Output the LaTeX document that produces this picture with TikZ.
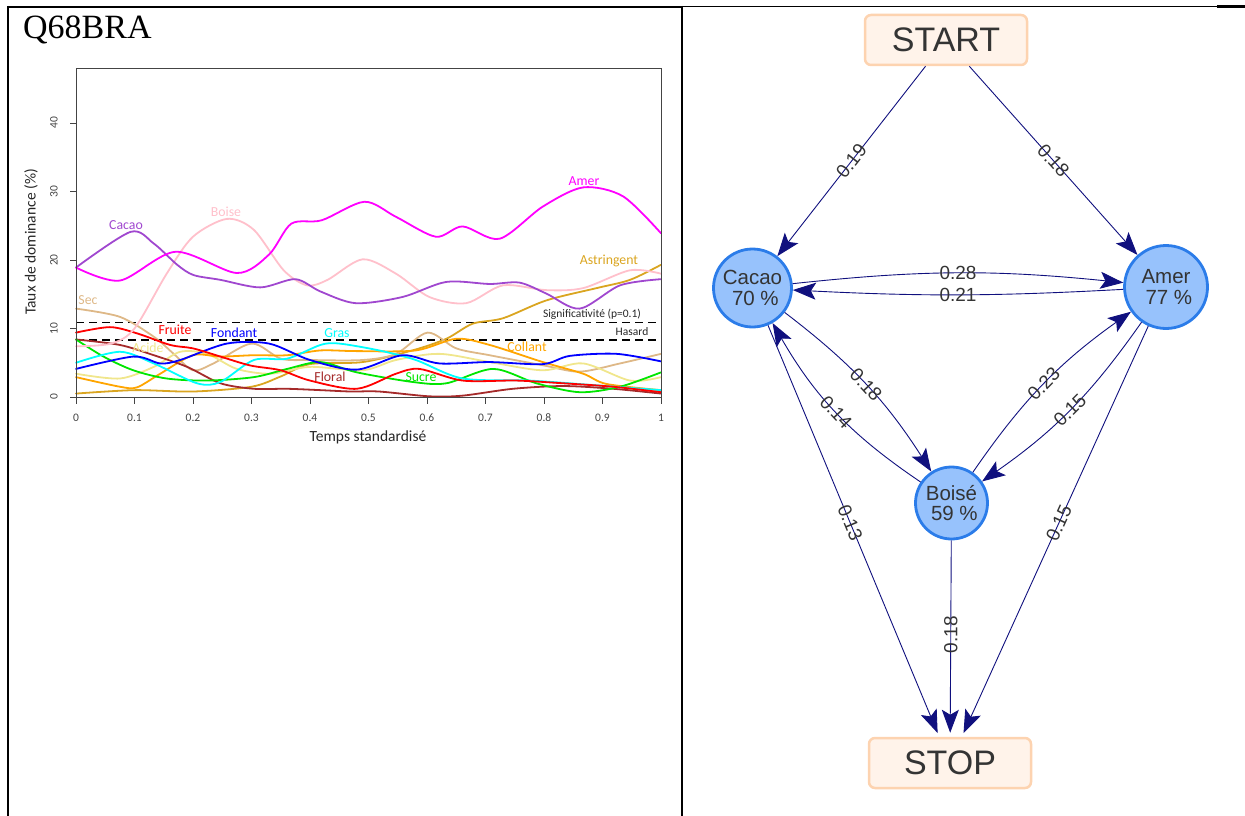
\documentclass[tikz,border=0pt]{standalone}
\usepackage{fontspec}
\setmainfont{Liberation Serif}
\newfontfamily\plotfont{Carlito}
\newfontfamily\graphfont{Liberation Sans}
\usetikzlibrary{arrows.meta}

\definecolor{cAmer}{HTML}{FF00FF}
\definecolor{cCacao}{HTML}{A047CF}
\definecolor{cBoise}{HTML}{FFC0CB}
\definecolor{cAstr}{HTML}{DAA520}
\definecolor{cSec}{HTML}{DEB887}
\definecolor{cFruite}{HTML}{FF0000}
\definecolor{cFondant}{HTML}{0000FF}
\definecolor{cGras}{HTML}{00FFFF}
\definecolor{cAcide}{HTML}{F0E68C}
\definecolor{cCollant}{HTML}{FFA500}
\definecolor{cFloral}{HTML}{A52A2A}
\definecolor{cSucre}{HTML}{00E600}
\definecolor{axcol}{HTML}{444444}
\definecolor{vborder}{HTML}{2B7CE9}
\definecolor{vfill}{HTML}{97C2FC}
\definecolor{vtext}{HTML}{343434}
\definecolor{tborder}{HTML}{FDD3B0}
\definecolor{tfill}{HTML}{FFF3EA}
\definecolor{navyedge}{HTML}{10107E}

\tikzset{
  curve/.style={line width=1.8pt, line join=round, line cap=round},
  axisline/.style={draw=axcol, line width=0.9pt},
  ticklab/.style={font=\plotfont\fontsize{11.5}{12}\selectfont, text=axcol, inner sep=0pt},
  axlab/.style={font=\plotfont\fontsize{15.5}{16}\selectfont, text=black!85, inner sep=0pt},
  clab/.style={font=\plotfont\fontsize{13.8}{14}\selectfont, inner sep=0pt},
  reflab/.style={font=\plotfont\fontsize{11.5}{12}\selectfont, text=black!85, inner sep=0pt},
  refline/.style={draw=black, line width=1.5pt, dash pattern=on 8pt off 5pt},
  vnode/.style={circle, draw=vborder, fill=vfill, line width=2.8pt, inner sep=0pt,
    text=vtext, align=center, font=\graphfont\fontsize{20.5}{20.5}\selectfont},
  term/.style={rectangle, rounded corners=6pt, draw=tborder, fill=tfill, line width=2.5pt,
    text=vtext, font=\graphfont\fontsize{34}{34}\selectfont, minimum width=162pt, minimum height=50pt},
  edge/.style={draw=navyedge, line width=0.9pt,
    -{Stealth[length=23pt,width=17pt,inset=5pt,fill=navyedge]}},
  elab/.style={font=\graphfont\fontsize{19}{19}\selectfont, text=vtext, inner sep=1pt},
  tableline/.style={draw=black, line width=2.2pt}
}

\begin{document}
\begin{tikzpicture}[x=1pt,y=1pt]
\useasboundingbox (0,0) rectangle (1245,-816);

% ---------- table borders ----------
\draw[tableline] (8,-7) -- (683,-7);
\draw[draw=black, line width=1.3pt] (683,-6.5) -- (1217,-6.5);
\draw[draw=black, line width=3pt] (1217,-7) -- (1245,-7);
\draw[tableline] (8,-6) -- (8,-816);
\draw[tableline] (682,-6) -- (682,-816);

\node[anchor=base west, inner sep=0pt, font=\fontsize{34}{34}\selectfont] (title) at (23,-39) {Q68BRA};

% ---------- plot ----------
\begin{scope}[shift={(76,-397)}, x=585pt, y=6.85pt]
  % reference lines
  \draw[refline] (0,10.9) -- (1,10.9);
  \draw[refline] (0,8.35) -- (1,8.35);
  % curves
  \draw[curve, cAstr] plot[smooth] coordinates {(0,0.5) (0.1,1.0) (0.2,0.8) (0.3,1.5) (0.35,3.0) (0.4,4.8) (0.49,5.1) (0.575,6.8) (0.633,8.5) (0.678,10.7) (0.73,11.5) (0.804,14.1) (0.89,15.9) (0.947,17.1) (1,19.3)};
  \draw[curve, cSec] plot[smooth] coordinates {(0,12.9) (0.075,11.7) (0.133,8.8) (0.167,6.3) (0.2,3.9) (0.235,4.9) (0.3,7.8) (0.35,5.6) (0.4,5.4) (0.49,5.4) (0.547,6.3) (0.601,9.4) (0.65,7.1) (0.707,6.1) (0.8,4.6) (0.861,3.7) (0.93,4.9) (1,6.3)};
  \draw[curve, cAcide] plot[smooth] coordinates {(0,3.4) (0.075,2.7) (0.133,4.4) (0.178,6.6) (0.224,6.3) (0.275,4.1) (0.333,3.4) (0.4,4.4) (0.49,3.9) (0.547,5.4) (0.621,6.3) (0.707,5.1) (0.798,3.9) (0.867,4.9) (0.947,2.4) (1,2.9)};
  \draw[curve, cCollant] plot[smooth] coordinates {(0,2.9) (0.075,1.5) (0.104,1.4) (0.144,3.4) (0.2,6.1) (0.247,5.9) (0.304,6.1) (0.361,6.1) (0.418,6.8) (0.48,6.7) (0.581,6.8) (0.65,8.5) (0.707,7.6) (0.798,5.1) (0.867,3.4) (0.907,1.9) (1,1.0)};
  \draw[curve, cFloral] plot[smooth] coordinates {(0,8.4) (0.075,7.6) (0.133,6.1) (0.19,4.4) (0.247,2.0) (0.304,1.2) (0.361,1.2) (0.418,1.0) (0.47,0.8) (0.518,0.8) (0.604,0.1) (0.661,0.2) (0.747,1.2) (0.833,1.6) (0.918,1.2) (1,0.5)};
  \draw[curve, cSucre] plot[smooth] coordinates {(0,8.4) (0.047,5.9) (0.098,3.9) (0.155,2.7) (0.224,2.4) (0.304,2.9) (0.361,4.1) (0.418,5.1) (0.48,3.6) (0.575,2.2) (0.633,2.0) (0.713,4.1) (0.787,2.0) (0.861,0.7) (0.93,1.5) (1,3.6)};
  \draw[curve, cGras] plot[smooth] coordinates {(0,5.0) (0.075,6.6) (0.133,4.9) (0.207,2.0) (0.247,2.2) (0.304,5.4) (0.361,5.6) (0.418,7.6) (0.45,7.8) (0.518,6.8) (0.581,5.4) (0.661,2.7) (0.775,2.4) (0.89,1.7) (1,1.0)};
  \draw[curve, cFondant] plot[smooth] coordinates {(0,4.1) (0.098,5.9) (0.144,4.9) (0.178,5.4) (0.258,7.8) (0.33,7.8) (0.4,5.4) (0.48,4.0) (0.558,6.1) (0.621,4.9) (0.707,5.1) (0.798,4.8) (0.844,6.0) (0.924,6.3) (1,5.2)};
  \draw[curve, cFruite] plot[smooth] coordinates {(0,9.4) (0.058,10.2) (0.104,9.3) (0.161,7.6) (0.2,7.1) (0.247,5.9) (0.298,4.6) (0.35,3.9) (0.4,2.4) (0.48,1.2) (0.547,3.4) (0.587,4.1) (0.661,2.4) (0.753,2.4) (0.833,2.0) (0.918,1.5) (1,0.7)};
  \draw[curve, cBoise] plot[smooth] coordinates {(0,7.4) (0.06,7.8) (0.1,10.0) (0.155,18.0) (0.2,23.4) (0.258,26.0) (0.304,24.4) (0.355,18.5) (0.395,16.3) (0.43,17.1) (0.49,20.1) (0.547,18.0) (0.604,14.6) (0.667,13.7) (0.73,16.3) (0.804,15.6) (0.867,15.9) (0.947,18.5) (1,18.0)};
  \draw[curve, cCacao] plot[smooth] coordinates {(0,18.9) (0.093,24.1) (0.133,22.4) (0.173,19.3) (0.201,17.8) (0.247,17.1) (0.315,16.0) (0.375,17.2) (0.418,15.4) (0.478,13.7) (0.558,14.6) (0.633,16.8) (0.707,16.5) (0.758,16.7) (0.804,15.1) (0.861,12.9) (0.93,16.3) (1,17.2)};
  \draw[curve, cAmer] plot[smooth] coordinates {(0,18.9) (0.075,17.0) (0.17,21.2) (0.275,18.1) (0.33,20.8) (0.368,25.3) (0.42,25.8) (0.493,28.5) (0.547,26.3) (0.615,23.4) (0.661,24.9) (0.724,23.1) (0.798,27.8) (0.867,30.6) (0.935,29.3) (1,23.9)};
  % frame
  \draw[axisline] (0,0) rectangle (1,47.9);
  % ticks
  \foreach \v in {0,10,20,30,40} {
    \draw[axisline] (0,\v) -- ++(-6.5pt,0);
    \node[ticklab, rotate=90] (yt\v) at ([xshift=-22pt]0,\v) {\v};
  }
  \foreach \i/\lab in {0/0,1/0.1,2/0.2,3/0.3,4/0.4,5/0.5,6/0.6,7/0.7,8/0.8,9/0.9,10/1} {
    \draw[axisline] (\i/10,0) -- ++(0,-6.5pt);
    \node[ticklab] (xt\i) at ([yshift=-21pt]\i/10,0) {\lab};
  }
\end{scope}

\node[axlab] (xlab) at (368,-437) {Temps standardisé};
\node[axlab, rotate=90] (ylab) at (31,-242) {Taux de dominance (\%)};

% curve labels
\node[clab, text=cAmer] (lAmer) at (584,-181) {Amer};
\node[clab, text=cCacao] (lCacao) at (126,-225) {Cacao};
\node[clab, text=cBoise] (lBoise) at (226,-212) {Boise};
\node[clab, text=cAstr] (lAstr) at (609,-261) {Astringent};
\node[clab, text=cSec] (lSec) at (88,-300) {Sec};
\node[clab, text=cFruite] (lFruite) at (175,-330) {Fruite};
\node[clab, text=cFondant] (lFondant) at (234,-333) {Fondant};
\node[clab, text=cGras] (lGras) at (337,-333) {Gras};
\node[clab, text=cAcide] (lAcide) at (148,-348) {Acide};
\node[clab, text=cCollant] (lCollant) at (527,-347) {Collant};
\node[clab, text=cFloral] (lFloral) at (330,-377) {Floral};
\node[clab, text=cSucre] (lSucre) at (421,-377) {Sucre};
\node[reflab] (lSig) at (592,-314) {Significativité (p=0.1)};
\node[reflab] (lHas) at (632,-332) {Hasard};

% ---------- graph ----------
\node[term] (START) at (946,-40) {START};
\node[term] (STOP) at (950,-763) {STOP};
\node[vnode, minimum size=78pt] (Cacao) at (752.5,-288) {Cacao\\\hspace*{0.28em}70 \%};
\node[vnode, minimum size=83pt] (Amer) at (1166,-287) {Amer\\\hspace*{0.28em}77 \%};
\node[vnode, minimum size=72pt] (Boise) at (951.5,-503) {Boisé\\\hspace*{0.28em}59 \%};

\draw[edge] (START) -- node[elab, sloped] (e1) {0.19} (Cacao);
\draw[edge] (START) -- node[elab, sloped] (e2) {0.18} (Amer);
\draw[edge] (Cacao) to[bend left=6] node[elab, sloped] (e3) {0.28} (Amer);
\draw[edge] (Amer) to[bend left=3] node[elab, sloped] (e4) {0.21} (Cacao);
\draw[edge] (Cacao) to[bend left=10] node[elab, sloped] (e5) {0.18} (Boise);
\draw[edge] (Boise) to[bend left=13] node[elab, sloped] (e6) {0.14} (Cacao);
\draw[edge] (Boise) to[bend left=10] node[elab, sloped] (e7) {0.23} (Amer);
\draw[edge] (Amer) to[bend left=10] node[elab, sloped] (e8) {0.15} (Boise);
\draw[edge, shorten >=4pt] (Cacao) -- node[elab, sloped, pos=0.48] (e9) {0.13} (STOP);
\draw[edge, shorten >=4pt] (Boise) -- node[elab, rotate=90, pos=0.48] (e10) {0.18} (STOP);
\draw[edge, shorten >=4pt] (Amer) -- node[elab, sloped, pos=0.48] (e11) {0.15} (STOP);
\end{tikzpicture}
\end{document}
